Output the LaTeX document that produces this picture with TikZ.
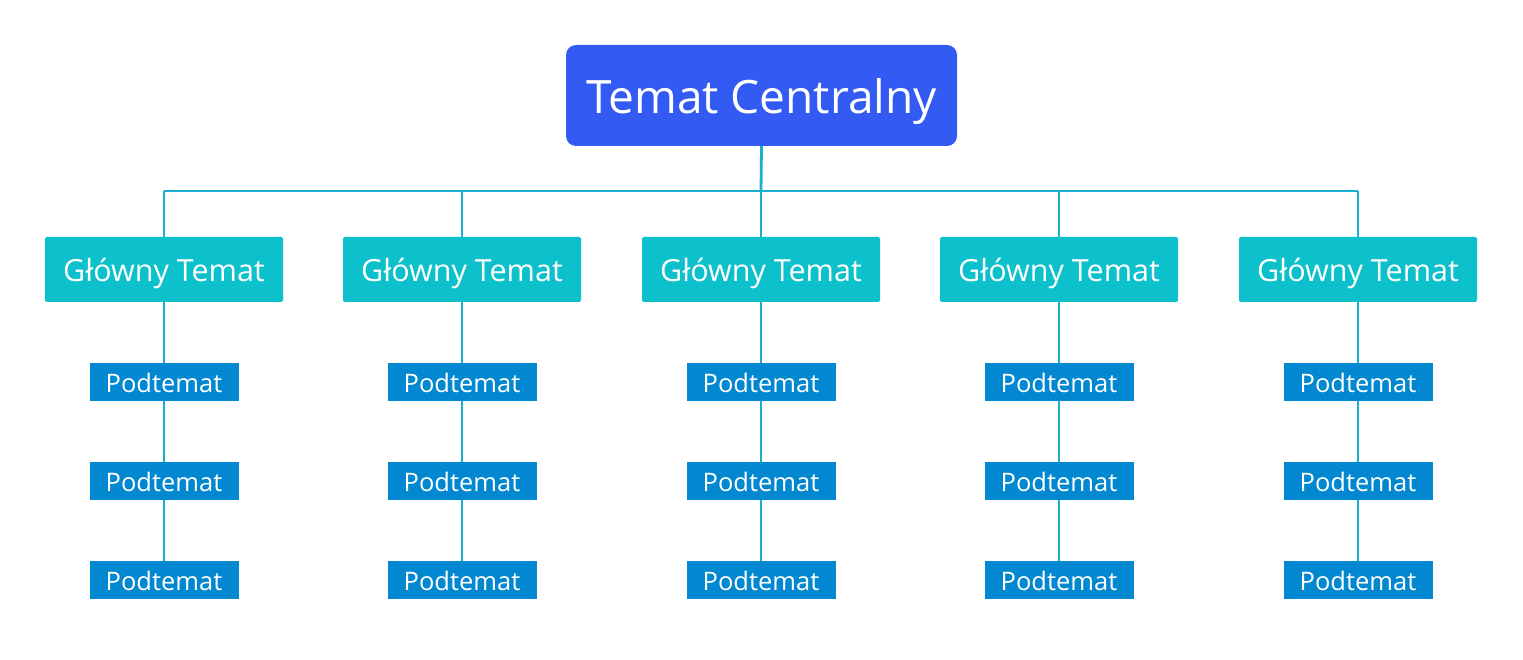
\documentclass[tikz,border=0pt]{standalone}
\usepackage{fontspec}
\setmainfont{Open Sans}
\definecolor{central}{HTML}{335BF3}
\definecolor{mainc}{HTML}{0CC1CC}
\definecolor{subc}{HTML}{0288D1}
\definecolor{linec}{HTML}{1AAFCF}
\begin{document}
\begin{tikzpicture}[x=1pt,y=-1pt,
  boxtext/.style={inner sep=0pt, text=white, text depth=0pt},
  centralbox/.style={boxtext, fill=central, rounded corners=10pt, minimum width=391pt, minimum height=101pt, text height=36pt, font=\fontsize{46}{52}\selectfont},
  mainbox/.style={boxtext, fill=mainc, rounded corners=2pt, minimum width=238pt, minimum height=65pt, text height=24.5pt, font=\fontsize{30.5}{36}\selectfont},
  subbox/.style={boxtext, fill=subc, minimum width=149pt, minimum height=38pt, text height=20.5pt, font=\fontsize{25.5}{30}\selectfont},
  conn/.style={draw=linec, line width=2.8pt}]
\useasboundingbox (0,0) rectangle (1523,660);
\fill[white] (0,0) rectangle (1523,660);
\node[centralbox] (c) at (761.5,95.5) {Temat Centralny};
\coordinate (bus) at (761,191);
\foreach \i/\x in {1/164,2/462,3/761,4/1059,5/1358}{
  \node[mainbox] (m\i) at (\x,269.5) {Główny Temat};
  \node[subbox] (s\i a) at (\x,382) {Podtemat};
  \node[subbox] (s\i b) at (\x,481) {Podtemat};
  \node[subbox] (s\i c) at (\x,580) {Podtemat};
  \coordinate (j\i) at (\x,191);
}
\draw[conn] (c.south) -- (bus);
\draw[conn] (j1) -- (j5);
\foreach \i in {1,...,5}{
  \draw[conn] (j\i) -- (m\i.north);
  \draw[conn] (m\i.south) -- (s\i a.north);
  \draw[conn] (s\i a.south) -- (s\i b.north);
  \draw[conn] (s\i b.south) -- (s\i c.north);
}
\end{tikzpicture}
\end{document}
